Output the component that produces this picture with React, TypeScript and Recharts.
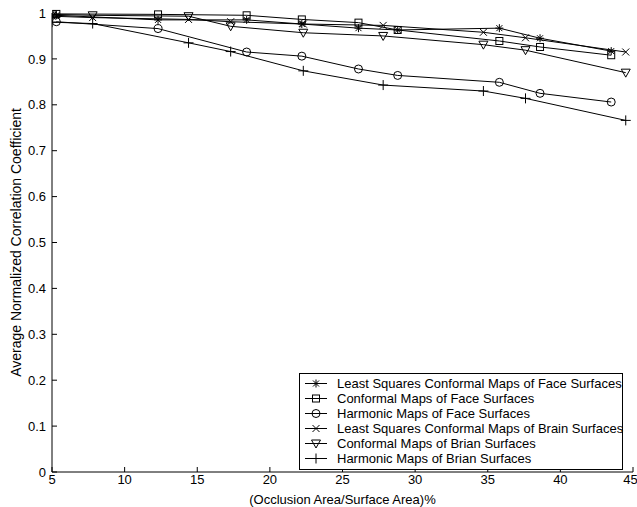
import React from 'react';
import { LineChart, Line, XAxis, YAxis, Legend } from 'recharts';

// x positions of the measurements (occlusion %)
const faceX = [5.3, 12.3, 18.4, 22.2, 26.1, 28.8, 35.8, 38.6, 43.5];
const brainX = [5, 7.8, 14.4, 17.3, 22.3, 27.8, 34.7, 37.6, 44.5];

const faceLscm = [0.995, 0.985, 0.985, 0.976, 0.967, 0.963, 0.967, 0.945, 0.917];
const faceConformal = [0.998, 0.997, 0.995, 0.986, 0.979, 0.963, 0.939, 0.926, 0.908];
const faceHarmonic = [0.981, 0.966, 0.915, 0.906, 0.878, 0.864, 0.849, 0.825, 0.806];
const brainLscm = [0.993, 0.99, 0.986, 0.981, 0.976, 0.973, 0.958, 0.946, 0.915];
const brainConformal = [0.997, 0.995, 0.993, 0.971, 0.957, 0.95, 0.931, 0.919, 0.87];
const brainHarmonic = [0.98, 0.977, 0.935, 0.916, 0.874, 0.843, 0.83, 0.814, 0.766];

const xTicks = [5, 10, 15, 20, 25, 30, 35, 40, 45];
const yTicks = [0, 0.1, 0.2, 0.3, 0.4, 0.5, 0.6, 0.7, 0.8, 0.9, 1];

type MarkerKind = 'star' | 'square' | 'circle' | 'cross' | 'triangle' | 'plus';

const seriesList: { name: string; xs: number[]; ys: number[]; marker: MarkerKind }[] = [
  { name: 'Least Squares Conformal Maps of Face Surfaces', xs: faceX, ys: faceLscm, marker: 'star' },
  { name: 'Conformal Maps of Face Surfaces', xs: faceX, ys: faceConformal, marker: 'square' },
  { name: 'Harmonic Maps of Face Surfaces', xs: faceX, ys: faceHarmonic, marker: 'circle' },
  { name: 'Least Squares Conformal Maps of Brain Surfaces', xs: brainX, ys: brainLscm, marker: 'cross' },
  { name: 'Conformal Maps of Brian Surfaces', xs: brainX, ys: brainConformal, marker: 'triangle' },
  { name: 'Harmonic Maps of Brian Surfaces', xs: brainX, ys: brainHarmonic, marker: 'plus' },
];

const Marker = ({ kind, cx, cy }: { kind: MarkerKind; cx: number; cy: number }) => {
  const s = { stroke: '#000', strokeWidth: 1, fill: 'none' };
  switch (kind) {
    case 'star':
      return (
        <g {...s}>
          <line x1={cx - 4} y1={cy} x2={cx + 4} y2={cy} />
          <line x1={cx} y1={cy - 4} x2={cx} y2={cy + 4} />
          <line x1={cx - 3} y1={cy - 3} x2={cx + 3} y2={cy + 3} />
          <line x1={cx - 3} y1={cy + 3} x2={cx + 3} y2={cy - 3} />
        </g>
      );
    case 'square':
      return <rect x={cx - 3.5} y={cy - 3.5} width={7} height={7} {...s} />;
    case 'circle':
      return <circle cx={cx} cy={cy} r={4} {...s} />;
    case 'cross':
      return (
        <g {...s}>
          <line x1={cx - 3.5} y1={cy - 3.5} x2={cx + 3.5} y2={cy + 3.5} />
          <line x1={cx - 3.5} y1={cy + 3.5} x2={cx + 3.5} y2={cy - 3.5} />
        </g>
      );
    case 'triangle':
      return <polygon points={`${cx - 4.5},${cy - 3.5} ${cx + 4.5},${cy - 3.5} ${cx},${cy + 4.5}`} {...s} />;
    default:
      return (
        <g {...s}>
          <line x1={cx - 5} y1={cy} x2={cx + 5} y2={cy} />
          <line x1={cx} y1={cy - 5} x2={cx} y2={cy + 5} />
        </g>
      );
  }
};

const LegendBox = () => (
  <div
    style={{
      border: '1px solid #000',
      background: '#fff',
      width: 324,
      padding: '2px 0 3px 0',
      fontSize: 13,
      lineHeight: '15px',
      boxSizing: 'border-box',
    }}
  >
    {seriesList.map((s) => (
      <div key={s.name} style={{ display: 'flex', alignItems: 'center', height: 15 }}>
        <svg width={30} height={15} style={{ flex: 'none', marginLeft: 3 }}>
          <line x1={2} y1={7.5} x2={24} y2={7.5} stroke="#000" strokeWidth={1} />
          <Marker kind={s.marker} cx={13} cy={7.5} />
        </svg>
        <span style={{ marginLeft: 4, whiteSpace: 'nowrap' }}>{s.name}</span>
      </div>
    ))}
  </div>
);

export default function App() {
  return (
    <div style={{ position: 'absolute', left: 0, top: 0, fontFamily: '"Liberation Sans", Arial, sans-serif' }}>
      <LineChart width={637} height={507} margin={{ top: 13, right: 4, bottom: 0, left: 0 }}>
        <XAxis
          type="number"
          dataKey="x"
          domain={[5, 45]}
          ticks={xTicks}
          allowDataOverflow
          height={35}
          tickSize={-5}
          tickMargin={8}
          stroke="#000"
          tick={{ fill: '#000', fontSize: 13 }}
          label={{ value: '(Occlusion Area/Surface Area)%', position: 'insideBottom', offset: 3, fill: '#000', fontSize: 13 }}
        />
        <XAxis
          xAxisId="top"
          orientation="top"
          type="number"
          domain={[5, 45]}
          ticks={xTicks}
          height={0}
          tickSize={-5}
          stroke="#000"
          tickFormatter={() => ''}
        />
        <YAxis
          type="number"
          domain={[0, 1]}
          ticks={yTicks}
          width={52}
          tickSize={-5}
          tickMargin={11}
          stroke="#000"
          tick={{ fill: '#000', fontSize: 13 }}
          label={{
            value: 'Average Normalized Correlation Coefficient',
            angle: -90,
            position: 'insideLeft',
            offset: 16,
            style: { textAnchor: 'middle' },
            fill: '#000',
            fontSize: 14,
          }}
        />
        <YAxis
          yAxisId="right"
          orientation="right"
          type="number"
          domain={[0, 1]}
          ticks={yTicks}
          width={0}
          tickSize={-5}
          stroke="#000"
          tickFormatter={() => ''}
        />
        {seriesList.map((s) => (
          <Line
            key={s.name}
            name={s.name}
            data={s.xs.map((x, i) => ({ x, y: s.ys[i] }))}
            dataKey="y"
            stroke="#000"
            strokeWidth={1}
            isAnimationActive={false}
            dot={(p: any) => <Marker key={`${s.name}-${p.index}`} kind={s.marker} cx={p.cx} cy={p.cy} />}
            activeDot={false}
          />
        ))}
        <Legend
          layout="vertical"
          align="center"
          verticalAlign="middle"
          content={() => <LegendBox />}
          wrapperStyle={{ left: 299, top: 373, width: 324 }}
        />
      </LineChart>
    </div>
  );
}
